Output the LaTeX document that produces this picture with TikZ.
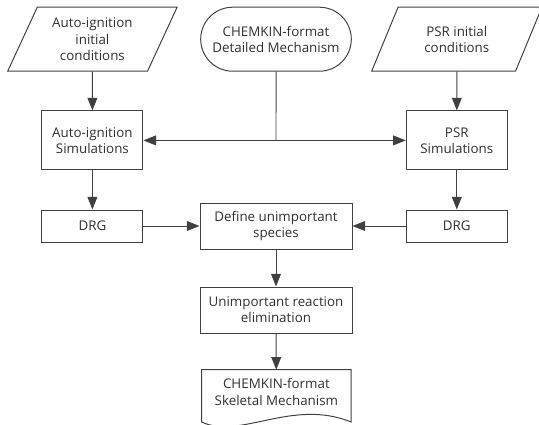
\documentclass[tikz,border=0pt]{standalone}
\usepackage{fontspec}
\setmainfont{Open Sans}
\usepackage{tikz}
\usetikzlibrary{positioning,shapes.geometric,shapes.misc,arrows.meta}
\definecolor{linegray}{HTML}{404040}
\definecolor{textgray}{HTML}{303030}

\begin{document}
\begin{tikzpicture}[
    font=\fontsize{9.5}{11.5}\selectfont,
    box/.style={rectangle,draw=linegray,line width=0.7pt,align=center,text=textgray,minimum width=2.525cm},
    inputbox/.style={trapezium,trapezium left angle=65,trapezium right angle=115,trapezium stretches=true,draw=linegray,line width=0.7pt,align=center,text=textgray,minimum width=4.275cm,minimum height=1.6cm},
    termbox/.style={rounded rectangle,draw=linegray,line width=0.7pt,align=center,text=textgray,minimum width=4cm,minimum height=1.6cm},
    flow/.style={draw=linegray,line width=0.7pt,-{Triangle[length=9pt,width=7pt]}},
    plain/.style={draw=linegray,line width=0.7pt}
]
    \useasboundingbox (0,0) rectangle (13.475,-10.625);

    % inputs
    \node [inputbox] (autoinit) at (2.31,-0.98) {Auto-ignition\\initial\\conditions};
    \node [termbox] (chem) at (6.9,-0.98) {CHEMKIN-format\\Detailed Mechanism};
    \node [inputbox] (psrinit) at (11.42,-0.98) {PSR initial\\conditions};

    % simulations
    \node [box,minimum height=1.475cm] (autosim) at (2.31,-3.51) {Auto-ignition\\Simulations};
    \node [box,minimum height=1.475cm] (psrsim) at (11.42,-3.51) {PSR\\Simulations};

    % reduction
    \node [box,minimum height=0.8cm] (drgl) at (2.31,-5.65) {DRG};
    \node [box,minimum height=0.8cm] (drgr) at (11.42,-5.65) {DRG};
    \node [box,minimum width=3.8cm,minimum height=1.15cm] (define) at (6.9,-5.65) {Define unimportant\\species};
    \node [box,minimum width=3.8cm,minimum height=1.15cm] (elim) at (6.9,-7.75) {Unimportant reaction\\elimination};

    % output document
    \node [rectangle,align=center,text=textgray,minimum width=3.725cm,minimum height=1.1cm] (skel) at (6.91,-9.8) {CHEMKIN-format\\Skeletal Mechanism};
    \coordinate (wl) at (skel.north west |- 0,-10.55);
    \coordinate (wr) at (skel.north east |- 0,-10.55);
    \coordinate (c1) at (6.0,-11.0);
    \coordinate (c2) at (7.3,-9.95);
    \draw [plain] (skel.north west) -- (wl) .. controls (c1) and (c2) .. (wr) -- (skel.north east) -- cycle;

    % connectors
    \coordinate (junc) at (chem.south |- autosim.east);
    \draw [flow] (autoinit) -- (autosim);
    \draw [flow] (psrinit) -- (psrsim);
    \draw [plain] (chem) -- (junc);
    \draw [flow] (junc) -- (autosim);
    \draw [flow] (junc) -- (psrsim);
    \draw [flow] (autosim) -- (drgl);
    \draw [flow] (psrsim) -- (drgr);
    \draw [flow] (drgl) -- (define);
    \draw [flow] (drgr) -- (define);
    \draw [flow] (define) -- (elim);
    \draw [flow] (elim) -- (skel);
\end{tikzpicture}
\end{document}
